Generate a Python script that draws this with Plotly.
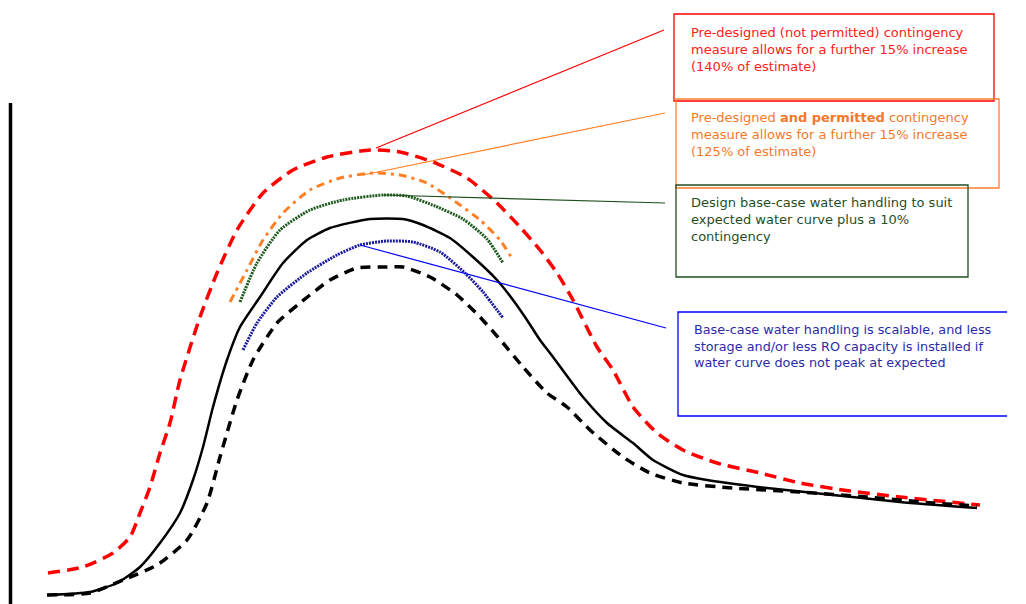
import plotly.graph_objects as go

# Conceptual water-curve chart (x = time units, y = water volume units; no tick scale shown)
expected_x = [48, 90, 117, 140, 160, 180, 193, 203, 213, 227, 240, 260, 283, 307, 330, 370, 403, 423, 450, 473, 497, 513, 527, 540, 553, 570, 583, 607, 633, 653, 683, 707, 767, 833, 900, 977]
expected_y = [9, 12, 21, 37, 61, 91, 124, 157, 197, 244, 277, 307, 341, 364, 376, 385, 385, 379, 366, 347, 324, 304, 284, 264, 247, 224, 207, 181, 161, 144, 129, 124, 116, 109, 102, 96]

low_x = [47, 90, 123, 157, 187, 207, 220, 237, 253, 277, 300, 330, 357, 387, 403, 430, 457, 480, 503, 523, 547, 567, 590, 623, 650, 683, 733, 800, 867, 933, 977]
low_y = [9, 11, 24, 39, 64, 101, 147, 204, 244, 281, 301, 324, 336, 337, 337, 327, 309, 287, 261, 237, 211, 197, 174, 147, 131, 121, 116, 112, 107, 101, 98]

p140_x = [48, 83, 113, 130, 140, 150, 160, 170, 180, 200, 217, 237, 263, 293, 327, 370, 400, 433, 467, 497, 520, 540, 557, 573, 597, 613, 633, 657, 683, 717, 760, 800, 850, 900, 980]
p140_y = [31, 37, 51, 67, 91, 117, 151, 181, 224, 287, 331, 374, 411, 434, 447, 454, 452, 442, 426, 401, 377, 354, 331, 304, 257, 234, 197, 171, 154, 141, 131, 121, 113, 107, 99]

p125_x = [230, 247, 263, 283, 310, 340, 373, 400, 427, 453, 480, 500, 513]
p125_y = [302, 334, 364, 391, 414, 426, 431, 429, 421, 404, 384, 364, 344]

p110_x = [240, 257, 280, 310, 343, 383, 407, 435, 463, 487, 503]
p110_y = [302, 341, 374, 394, 404, 409, 408, 398, 385, 365, 341]

p90_x = [243, 257, 277, 307, 337, 360, 387, 413, 440, 465, 483, 503]
p90_y = [254, 281, 307, 331, 349, 359, 363, 362, 352, 331, 312, 286]

labels = [
    "Pre-designed (not permitted) contingency<br>measure allows for a further 15% increase<br>(140% of estimate)",
    "Pre-designed <b>and permitted</b> contingency<br>measure allows for a further 15% increase<br>(125% of estimate)",
    "Design base-case water handling to suit<br>expected water curve plus a 10%<br>contingency",
    "Base-case water handling is scalable, and less<br>storage and/or less RO capacity is installed if<br>water curve does not peak at expected",
]

fig = go.Figure()

def add(x, y, color, width, dash):
    fig.add_trace(go.Scatter(x=x, y=y, mode="lines",
                             line=dict(color=color, width=width, dash=dash, shape="spline", smoothing=0.6),
                             hoverinfo="skip", showlegend=False))

add(p140_x, p140_y, "#FF0000", 3.5, "12px,7px")
add(p125_x, p125_y, "#FF7F27", 3, "8px,5px,3px,5px")
add(p110_x, p110_y, "#1F5A1F", 3, "2px,1px")
add(expected_x, expected_y, "#000000", 2.5, "solid")
add(p90_x, p90_y, "#1A1A9E", 3, "2px,1px")
add(low_x, low_y, "#000000", 3.5, "10px,7px")

shapes = []
# vertical axis
shapes.append(dict(type="line", x0=10.5, x1=10.5, y0=0, y1=501, line=dict(color="black", width=3.5)))
# leader lines
shapes.append(dict(type="line", x0=376, y0=456, x1=664, y1=574, line=dict(color="#FF0000", width=1.2)))
shapes.append(dict(type="line", x0=363, y0=429, x1=665, y1=491, line=dict(color="#FF7F27", width=1.2)))
shapes.append(dict(type="line", x0=383, y0=409, x1=665, y1=401, line=dict(color="#1F4F1F", width=1.2)))
shapes.append(dict(type="line", x0=360, y0=359, x1=666, y1=276, line=dict(color="#0000FF", width=1.2)))
# boxes
shapes.append(dict(type="rect", x0=674, x1=994, y0=503, y1=590, line=dict(color="#FF0000", width=1.3)))
shapes.append(dict(type="rect", x0=676, x1=999, y0=416, y1=505, line=dict(color="#FF7F27", width=1.3)))
shapes.append(dict(type="rect", x0=676, x1=968, y0=327, y1=419, line=dict(color="#1F4F1F", width=1.3)))
shapes.append(dict(type="path", path="M 1007 292 L 678 292 L 678 188 L 1007 188",
                   line=dict(color="#0000FF", width=1.3)))

ann_font = "DejaVu Sans, Verdana, sans-serif"
anns = [
    dict(x=689, y=581, text=labels[0], font=dict(color="#FF2020", size=13, family=ann_font)),
    dict(x=689, y=496, text=labels[1], font=dict(color="#F4792A", size=13, family=ann_font)),
    dict(x=689, y=411, text=labels[2], font=dict(color="#1F4F1F", size=13, family=ann_font)),
    dict(x=692, y=284, text=labels[3], font=dict(color="#2B2BA8", size=12.8, family=ann_font)),
]
for a in anns:
    a.update(xref="x", yref="y", xanchor="left", yanchor="top", align="left", showarrow=False)

fig.update_layout(
    width=1026, height=604,
    margin=dict(l=0, r=0, t=0, b=0),
    paper_bgcolor="white", plot_bgcolor="white",
    xaxis=dict(range=[0, 1026], visible=False, fixedrange=True),
    yaxis=dict(range=[0, 604], visible=False, fixedrange=True),
    shapes=shapes, annotations=anns, showlegend=False,
)

fig.write_html("out.html", config={"displayModeBar": False},
               post_script="document.body.style.margin='0';document.body.style.overflow='hidden';")
